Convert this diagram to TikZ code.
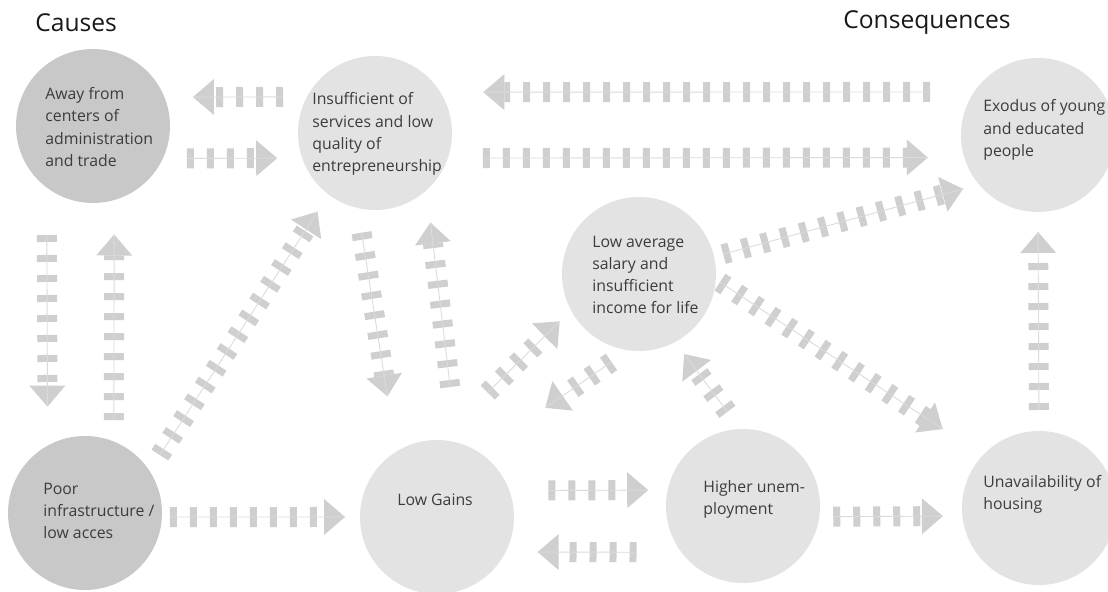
\documentclass[tikz,border=0pt]{standalone}
\usepackage{fontspec}
\setmainfont{Open Sans}
\usetikzlibrary{arrows.meta}
\definecolor{darkdisc}{HTML}{C8C8C8}
\definecolor{lightdisc}{HTML}{E3E3E3}
\definecolor{flowgray}{HTML}{CFCFCF}
\definecolor{inkgray}{HTML}{3C3C3C}

\begin{document}
\begin{tikzpicture}[
    cause/.style={shape=circle,fill=darkdisc,minimum size=3.08cm,inner sep=0pt,outer sep=0pt},
    effect/.style={cause,fill=lightdisc},
    txt/.style={anchor=west,align=left,inner sep=0pt,text=inkgray,font=\fontsize{9}{12.6}\selectfont},
    title/.style={inner sep=0pt,text=black!90,font=\fontsize{14}{16}\selectfont},
    flow/.style={draw=flowgray,line width=0.4cm,dash pattern=on 0.14cm off 0.26cm,
        -{Triangle[length=0.42cm,width=0.72cm,line width=0pt]},
        postaction={draw=flowgray!75!white,line width=0.5pt,solid,-}}]
    \useasboundingbox[fill=white] (0,0) rectangle (22.16,11.84);

    \node[title,anchor=west] (causes) at (0.70,11.38) {Causes};
    \node[title,anchor=east] (conseq) at (20.22,11.38) {Consequences};

    \node[cause] (away) at (1.86,9.32) {};
    \node[effect] (serv) at (7.50,9.18) {};
    \node[effect] (exod) at (20.76,9.14) {};
    \node[effect] (sal) at (12.78,6.36) {};
    \node[cause] (poor) at (1.70,1.58) {};
    \node[effect] (gain) at (8.74,1.50) {};
    \node[effect] (unemp) at (14.86,1.72) {};
    \node[effect] (hous) at (20.78,1.68) {};

    \node[txt] (away-t) at (0.90,9.30) {Away from\\centers of\\administration\\and trade};
    \node[txt] (serv-t) at (6.24,9.16) {Insufficient of\\services and low\\quality of\\entrepreneurship};
    \node[txt] (exod-t) at (19.66,9.24) {Exodus of young\\and educated\\people};
    \node[txt] (sal-t) at (11.84,6.34) {Low average\\salary and\\insufficient\\income for life};
    \node[txt] (poor-t) at (0.86,1.62) {Poor\\infrastructure /\\low acces};
    \node[txt] (gain-t) at (7.94,1.84) {Low Gains};
    \node[txt] (unemp-t) at (14.06,1.86) {Higher unem-\\ployment};
    \node[txt] (hous-t) at (19.66,1.96) {Unavailability of\\housing};

    \draw[flow,shorten <=0.48cm,shorten >=0.57cm] (serv.152) -- (away.22);
    \draw[flow,shorten <=0.48cm,shorten >=0.50cm] (away.-25) -- (serv.199);
    \draw[flow,shorten <=0.88cm,shorten >=0.86cm] (exod.146) -- (serv.32);
    \draw[flow,shorten <=0.70cm,shorten >=0.73cm] (serv.-19) -- (exod.197.4);
    \draw[flow,shorten <=0.95cm,shorten >=0.78cm] (away.233.3) -- (poor.119.6);
    \draw[flow,shorten <=0.43cm,shorten >=0.69cm] (poor.68.7) -- (away.-74.9);
    \draw[flow,shorten <=0.38cm,shorten >=0.41cm] (poor.33) -- (serv.233.5);
    \draw[flow,shorten <=0.16cm,shorten >=0.30cm] (poor.-3.7) -- (gain.180.7);
    \draw[flow,shorten <=0.50cm,shorten >=1.12cm] (serv.257.4) -- (gain.122.7);
    \draw[flow,shorten <=1.12cm,shorten >=0.65cm] (gain.75.1) -- (serv.-48.5);
    \draw[flow,shorten <=1.35cm,shorten >=0.32cm] (gain.88.7) -- (sal.208.6);
    \draw[flow,shorten <=0.41cm,shorten >=1.59cm] (sal.262.5) -- (gain.56.4);
    \draw[flow,shorten <=0.43cm,shorten >=0.30cm] (unemp.92.5) -- (sal.-62);
    \draw[flow,shorten <=0.19cm,shorten >=0.33cm] (sal.13.9) -- (exod.220.2);
    \draw[flow,shorten <=0.10cm,shorten >=0.96cm] (sal.-4.6) -- (hous.137.9);
    \draw[flow,shorten <=0.42cm,shorten >=0.40cm] (hous.90) -- (exod.-90);
    \draw[flow,shorten <=0.28cm,shorten >=0.39cm] (unemp.-8.2) -- (hous.186.7);
    \draw[flow,shorten <=0.78cm,shorten >=0.39cm] (gain.20.5) -- (unemp.168);
    \draw[flow,shorten <=0.90cm,shorten >=0.64cm] (unemp.217.6) -- (gain.-27.9);
\end{tikzpicture}
\end{document}
